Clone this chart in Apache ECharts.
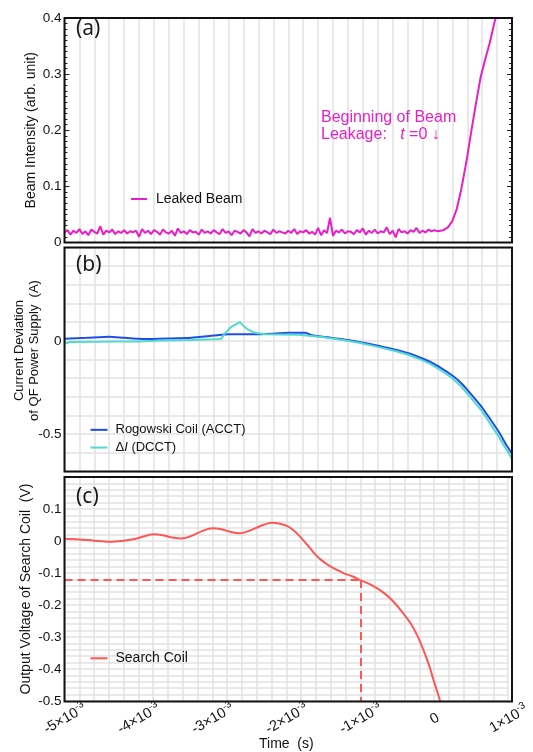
<!DOCTYPE html>
<html>
<head>
<meta charset="UTF-8">
<title>Beam leakage</title>
<script src="https://cdn.jsdelivr.net/npm/echarts@6/dist/echarts.min.js"></script>
<style>
html,body{margin:0;padding:0;background:#fff;}
#chart{width:533px;height:752px;}
</style>
</head>
<body>
<div id="chart"></div>
<script>
// time in units of 1e-3 s
var beamNoiseStart = -5.0, beamNoiseStep = 0.04;
var beamNoise = [
  0.018,0.022,0.014,0.021,0.017,0.024,0.015,0.020,0.013,0.023,0.019,0.016,0.029,0.014,0.021,0.018,0.023,0.015,0.020,0.017,0.022,0.016,0.020,0.018,0.021,
  0.010,0.024,0.017,0.021,0.015,0.022,0.019,0.014,0.023,0.018,0.016,0.021,0.012,0.025,0.017,0.020,0.015,0.022,0.018,0.019,0.014,0.023,0.017,0.020,0.016,
  0.022,0.018,0.015,0.024,0.017,0.020,0.013,0.021,0.019,0.016,0.022,0.018,0.011,0.024,0.017,0.020,0.016,0.021,0.018,0.015,0.023,0.017,0.020,0.018,0.016,
  0.021,0.017,0.024,0.015,0.020,0.018,0.022,0.016,0.019,0.014,0.026,0.013,0.022,0.017,0.044,0.012,0.021,0.018,0.023,0.016,0.020,0.019,0.015,0.022,0.018,
  0.025,0.014,0.021,0.017,0.023,0.016,0.020,0.018,0.027,0.015,0.021,0.009,0.024,0.018,0.020,0.016,0.022,0.019,0.026,0.017,0.021,0.018,0.023,0.020,0.022
];
var beamRise = [[0.0,0.020],[0.08,0.022],[0.14,0.027],[0.2,0.038],[0.26,0.060],[0.32,0.095],[0.39,0.145],[0.45,0.195],[0.52,0.250],[0.58,0.295],[0.64,0.326],[0.7,0.355],[0.77,0.395],[0.78,0.40]];

var rogowski = [[-5.0,0.011],[-4.7,0.016],[-4.4,0.022],[-4.2,0.016],[-3.95,0.010],[-3.6,0.013],[-3.3,0.017],[-3.0,0.028],[-2.8,0.035],[-2.5,0.035],[-2.2,0.038],[-2.0,0.043],[-1.78,0.043],[-1.68,0.030],[-1.5,0.020],[-1.27,0.009],[-1.05,-0.006],[-0.86,-0.021],[-0.59,-0.045],[-0.4,-0.065],[-0.27,-0.084],[-0.1,-0.112],[0.05,-0.146],[0.2,-0.186],[0.32,-0.227],[0.45,-0.285],[0.59,-0.352],[0.7,-0.415],[0.82,-0.486],[0.92,-0.555],[1.0,-0.605]];
var dcct = [[-5.0,-0.006],[-4.97,-0.013],[-4.93,-0.006],[-4.6,-0.005],[-4.3,-0.004],[-4.0,-0.003],[-3.7,0.002],[-3.3,0.004],[-3.0,0.008],[-2.9,0.010],[-2.86,0.036],[-2.77,0.073],[-2.65,0.100],[-2.6,0.080],[-2.55,0.063],[-2.48,0.048],[-2.41,0.040],[-2.3,0.035],[-2.1,0.034],[-1.86,0.032],[-1.55,0.020],[-1.27,0.005],[-1.05,-0.010],[-0.86,-0.027],[-0.59,-0.052],[-0.4,-0.073],[-0.27,-0.093],[-0.1,-0.122],[0.05,-0.159],[0.2,-0.200],[0.32,-0.245],[0.45,-0.305],[0.59,-0.373],[0.7,-0.438],[0.82,-0.512],[0.92,-0.580],[1.0,-0.632]];

var searchCoil = [[-5.0,0.007],[-4.8,0.005],[-4.6,0.001],[-4.4,-0.002],[-4.2,0.001],[-4.05,0.006],[-3.92,0.015],[-3.79,0.021],[-3.65,0.017],[-3.52,0.010],[-3.42,0.008],[-3.28,0.016],[-3.14,0.031],[-3.0,0.040],[-2.88,0.037],[-2.75,0.028],[-2.63,0.024],[-2.5,0.032],[-2.35,0.047],[-2.2,0.057],[-2.1,0.055],[-1.98,0.046],[-1.9,0.033],[-1.84,0.020],[-1.77,0.002],[-1.71,-0.014],[-1.66,-0.028],[-1.6,-0.044],[-1.53,-0.059],[-1.46,-0.071],[-1.4,-0.080],[-1.31,-0.091],[-1.22,-0.101],[-1.1,-0.111],[-1.0,-0.122],[-0.88,-0.134],[-0.77,-0.148],[-0.66,-0.166],[-0.55,-0.190],[-0.44,-0.220],[-0.32,-0.257],[-0.23,-0.295],[-0.145,-0.341],[-0.07,-0.388],[-0.01,-0.434],[0.04,-0.470],[0.08,-0.500]];
var guideT = -1.0, guideV = -0.122;

var beamData = beamNoise.map(function(v, i) { return [beamNoiseStart + i * beamNoiseStep, v]; }).concat(beamRise);

var FONT = 'Liberation Sans';
var MAGENTA = '#e81ec8', BLUE = '#1f4ee6', CYAN = '#4fd9cf', RED = '#ff5656';
var GRIDC = '#e2e2e2';

// panel frames
var PL = 64.5, PW = 447.5;
var panels = [{top: 18, h: 224.5}, {top: 247.5, h: 224}, {top: 477, h: 224.5}];

function fmt1(v) { return String(Math.round(v * 10) / 10); }

function xAxisOf(i, labels) {
  return {
    type: 'value', gridIndex: i, min: -5, max: 1, interval: 1,
    axisLine: {show: false, onZero: false}, axisTick: {show: false},
    minorTick: {show: false, splitNumber: 5},
    splitLine: {show: true, lineStyle: {color: GRIDC, width: 1.5}},
    minorSplitLine: {show: true, lineStyle: {color: GRIDC, width: 1.5}},
    axisLabel: labels ? {
      show: true, rotate: 30, align: 'center', verticalAlign: 'middle', margin: 17,
      formatter: function(v) {
        if (Math.abs(v) < 1e-9) return '{m|0}';
        return '{m|' + Math.round(v) + '×10}{s|-3}';
      },
      rich: {
        m: {fontFamily: FONT, fontSize: 14.5, color: '#111', lineHeight: 17, verticalAlign: 'bottom'},
        s: {fontFamily: FONT, fontSize: 10, color: '#111', lineHeight: 17, verticalAlign: 'top'}
      }
    } : {show: false},
    name: labels ? 'Time  (s)' : '', nameLocation: 'middle', nameGap: 36, nameMoveOverlap: false,
    nameTextStyle: {fontFamily: FONT, fontSize: 14, color: '#111'}
  };
}

var nameStyle = {fontFamily: FONT, fontSize: 14, color: '#111'};
var tickLabel = {fontFamily: FONT, fontSize: 13.5, color: '#111', margin: 3};

var frames = panels.map(function(p) {
  return {type: 'rect', z: 100, silent: true,
    shape: {x: PL, y: p.top, width: PW, height: p.h},
    style: {fill: 'none', stroke: '#111', lineWidth: 2}};
});

var option = {
  animation: false,
  grid: panels.map(function(p) {
    return {left: PL, right: 533 - PL - PW, top: p.top, height: p.h, show: false};
  }),
  xAxis: [xAxisOf(0, false), xAxisOf(1, false), xAxisOf(2, true)],
  yAxis: [
    {
      type: 'value', gridIndex: 0, min: 0, max: 0.4, interval: 0.1,
      axisLine: {show: false, onZero: false}, splitLine: {show: false},
      axisTick: {show: true, inside: true, length: 5, lineStyle: {color: '#222'}},
      minorTick: {show: true, splitNumber: 10, length: 3, lineStyle: {color: '#222'}},
      axisLabel: Object.assign({formatter: fmt1}, tickLabel),
      name: 'Beam Intensity (arb. unit)', nameLocation: 'middle', nameGap: 26.5, nameMoveOverlap: false,
      nameTextStyle: nameStyle
    },
    {
      type: 'value', gridIndex: 0, min: 0, max: 0.4, interval: 0.1, position: 'right',
      axisLine: {show: false, onZero: false}, splitLine: {show: false}, axisLabel: {show: false},
      axisTick: {show: true, inside: true, length: 5, lineStyle: {color: '#222'}},
      minorTick: {show: true, splitNumber: 10, length: 3, lineStyle: {color: '#222'}}
    },
    {
      type: 'value', gridIndex: 1, min: -0.7, max: 0.5, interval: 0.1,
      axisLine: {show: false, onZero: false}, axisTick: {show: false},
      splitLine: {show: true, lineStyle: {color: GRIDC, width: 1.5}},
      axisLabel: Object.assign({
        formatter: function(v) {
          var s = fmt1(v);
          return (s === '0' || s === '-0.5') ? s : '';
        }
      }, tickLabel),
      name: 'Current Deviation\nof QF Power Supply  (A)', nameLocation: 'middle', nameGap: 23, nameMoveOverlap: false,
      nameTextStyle: {fontFamily: FONT, fontSize: 13, color: '#111', lineHeight: 14.7, padding: [0, 0, 0, 18]}
    },
    {
      type: 'value', gridIndex: 2, min: -0.5, max: 0.2, interval: 0.1,
      axisLine: {show: false, onZero: false}, axisTick: {show: false},
      minorTick: {show: false, splitNumber: 5},
      splitLine: {show: true, lineStyle: {color: GRIDC, width: 1.5}},
      minorSplitLine: {show: true, lineStyle: {color: GRIDC, width: 1.5}},
      axisLabel: Object.assign({
        formatter: function(v) {
          var s = fmt1(v);
          return s === '0.2' ? '' : s;
        }
      }, tickLabel),
      name: 'Output Voltage of Search Coil  (V)', nameLocation: 'middle', nameGap: 31, nameMoveOverlap: false,
      nameTextStyle: nameStyle
    }
  ],
  legend: [
    {
      data: ['Leaked Beam'], left: 131, top: 191, padding: 0, icon: 'rect', itemWidth: 16, itemHeight: 2,
      textStyle: {fontFamily: FONT, fontSize: 14, color: '#111', lineHeight: 16, padding: [0, 0, 0, 4]}
    },
    {
      data: ['Rogowski Coil (ACCT)', 'ΔI (DCCT)'], orient: 'vertical', left: 90.5, top: 421, padding: 0, itemGap: 0,
      icon: 'rect', itemWidth: 17, itemHeight: 2,
      formatter: function(name) {
        return name === 'ΔI (DCCT)' ? '{n|Δ}{i|I}{n| (DCCT)}' : '{n|' + name + '}';
      },
      textStyle: {
        fontFamily: FONT, fontSize: 13, color: '#111', lineHeight: 17.7, padding: [0, 0, 0, 3],
        rich: {
          n: {fontFamily: FONT, fontSize: 13, color: '#111', lineHeight: 17.7},
          i: {fontFamily: FONT, fontSize: 13, color: '#111', lineHeight: 17.7, fontStyle: 'italic'}
        }
      }
    },
    {
      data: ['Search Coil'], left: 90.5, top: 650.3, padding: 0, icon: 'rect', itemWidth: 17, itemHeight: 2,
      textStyle: {fontFamily: FONT, fontSize: 14, color: '#111', lineHeight: 16, padding: [0, 0, 0, 3]}
    }
  ],
  graphic: frames.concat([
    {type: 'text', z: 100, left: 76, top: 19, style: {text: '(a)', font: '21px "Noto Sans"', fill: '#1a1a1a'}},
    {type: 'text', z: 100, left: 76, top: 255, style: {text: '(b)', font: '21px "Noto Sans"', fill: '#1a1a1a'}},
    {type: 'text', z: 100, left: 76, top: 487, style: {text: '(c)', font: '21px "Noto Sans"', fill: '#1a1a1a'}},
    {
      type: 'text', z: 100, left: 321, top: 110,
      style: {
        text: '{n|Beginning of Beam}\n{n|Leakage:   }{i|t}{n| =0 ↓}',
        rich: {
          n: {fontFamily: FONT, fontSize: 16, lineHeight: 17, fill: MAGENTA},
          i: {fontFamily: FONT, fontSize: 16, lineHeight: 17, fill: MAGENTA, fontStyle: 'italic'}
        }
      }
    }
  ]),
  series: [
    {
      name: 'Leaked Beam', type: 'line', xAxisIndex: 0, yAxisIndex: 0, data: beamData,
      showSymbol: false, color: MAGENTA, lineStyle: {width: 2, color: MAGENTA}
    },
    {
      name: 'Rogowski Coil (ACCT)', type: 'line', xAxisIndex: 1, yAxisIndex: 2, data: rogowski,
      showSymbol: false, smooth: 0.2, color: BLUE, lineStyle: {width: 2, color: BLUE}
    },
    {
      name: 'ΔI (DCCT)', type: 'line', xAxisIndex: 1, yAxisIndex: 2, data: dcct,
      showSymbol: false, color: CYAN, lineStyle: {width: 2, color: CYAN}
    },
    {
      name: 'Search Coil', type: 'line', xAxisIndex: 2, yAxisIndex: 3, data: searchCoil,
      showSymbol: false, smooth: 0.3, color: RED, lineStyle: {width: 2, color: RED},
      markLine: {
        silent: true, symbol: 'none', label: {show: false},
        lineStyle: {color: RED, width: 2, type: [8, 5]},
        data: [
          [{coord: [-5, guideV]}, {coord: [guideT, guideV]}],
          [{coord: [guideT, guideV]}, {coord: [guideT, -0.5]}]
        ]
      }
    }
  ]
};

var chart = echarts.init(document.getElementById('chart'));
chart.setOption(option);
</script>
</body>
</html>
